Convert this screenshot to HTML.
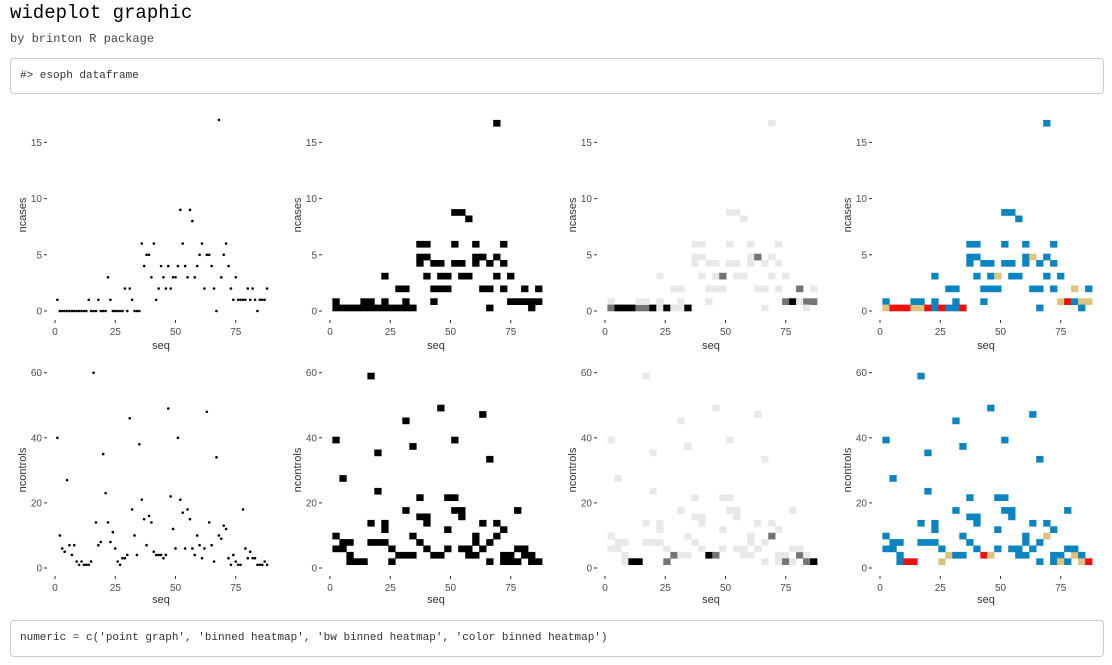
<!DOCTYPE html>
<html><head><meta charset="utf-8">
<style>
body{margin:0;background:#fff;width:1112px;height:665px;overflow:hidden;position:relative}
.t{position:absolute;left:10px;top:2px;font:19px "Liberation Mono",monospace;color:#000}
.s{position:absolute;left:10px;top:32px;font:12px "Liberation Mono",monospace;color:#444}
.box{position:absolute;left:10px;width:1094px;border:1px solid #ccc;border-radius:4px;background:#fff;font:11px "Liberation Mono",monospace;color:#333;box-sizing:border-box;padding-left:9px}
svg{position:absolute;left:0;top:0}
</style></head><body>
<div class="t">wideplot graphic</div>
<div class="s">by brinton R package</div>
<div class="box" style="top:58px;height:36px;line-height:34px">#&gt; esoph dataframe</div>
<div class="box" style="top:620px;height:37px;line-height:35px">numeric = c('point graph', 'binned heatmap', 'bw binned heatmap', 'color binned heatmap')</div>
<svg id="g" width="1112" height="665" xmlns="http://www.w3.org/2000/svg" font-family="Liberation Sans, sans-serif"></svg>
<script>
var cases={};
function setL(l,xs){xs.forEach(function(x){cases[Math.round((x-165)/7.24)+1]=l;});}
setL(0,[170,177,184,191,199,206,213,220,228,235,242,249,265,272,279,297,304,311,330,337,344,351,358,373,398,405,412,640,765]);
setL(1,[257,286,322,388,460,692,708,714,721,757,772,779,786,800]);
setL(2,[366,381,468,490,504,605,634,685,736,750,793]);
setL(3,[315,446,482,511,518,554,576,656,700]);
setL(4,[424,475,497,525,547,583,627,677]);
setL(5,[430,438,590,612,619,663]);
setL(6,[417,453,540,598,670]);
setL(8,[568]);setL(9,[533,561]);setL(17,[648]);
var nc=[40,10,6,5,27,7,4,7,2,1,2,1,1,1,2,60,14,7,8,35,23,14,8,11,6,2,1,3,3,4,46,18,10,4,38,21,15,7,16,14,5,4,4,4,3,4,49,22,12,6,40,21,17,6,18,15,6,4,10,7,3,6,48,14,7,2,34,10,9,13,12,3,1,4,2,1,1,18,6,3,5,3,3,1,1,1,2,1];
var ca=[];for(var i=1;i<=88;i++)ca.push(cases[i]!==undefined?cases[i]:1);
var svg=document.getElementById('g'),h='';
function txt(x,y,s,a,sz,c,extra){return '<text x="'+x+'" y="'+y+'" font-size="'+sz+'" fill="'+c+'" text-anchor="'+a+'" '+(extra||'')+'>'+s+'</text>';}
var rows=[{d:ca,y0:311,sc:11.24,ticks:[0,5,10,15],lab:'ncases',ty:322,ly:335,sy:349,laby:215},
          {d:nc,y0:568,sc:3.255,ticks:[0,20,40,60],lab:'ncontrols',ty:578,ly:591,sy:603,laby:470}];
var xs=2.41;
rows.forEach(function(r){
  var mn=Math.min.apply(null,r.d),mx=Math.max.apply(null,r.d);
  var bw=(88-1)/30,bh=(mx-mn)/30;
  var bins={},maxc=0;
  r.d.forEach(function(v,i){var x=i+1;var bx=Math.min(29,Math.floor((x-1)/bw)),by=Math.min(29,Math.floor((v-mn)/bh));var k=bx+','+by;bins[k]=(bins[k]||0)+1;if(bins[k]>maxc)maxc=bins[k];});
  for(var p=0;p<4;p++){
    var ox=55+275*p;
    r.ticks.forEach(function(t){var y=r.y0-t*r.sc;h+=txt(ox-13,y+3.5,t,'end',10,'#4d4d4d');h+='<line x1="'+(ox-11)+'" x2="'+(ox-8)+'" y1="'+y+'" y2="'+y+'" stroke="#333" stroke-width="1"/>';});
    [0,25,50,75].forEach(function(t){var x=ox+t*xs;h+='<line x1="'+x+'" x2="'+x+'" y1="'+(r.ty-2)+'" y2="'+(r.ty+1)+'" stroke="#333"/>';h+=txt(x,r.ly,t,'middle',10,'#4d4d4d');});
    h+=txt(ox+106,r.sy,'seq','middle',11,'#333');
    h+=txt(0,0,r.lab,'middle',11,'#333','transform="translate('+(ox-29)+','+r.laby+') rotate(-90)"');
    if(p==0){r.d.forEach(function(v,i){h+='<circle cx="'+(ox+(i+1)*xs)+'" cy="'+(r.y0-v*r.sc)+'" r="1.3" fill="#000"/>';});}
    else{
      for(var k in bins){var c=bins[k],b=k.split(',');var bx=+b[0],by=+b[1];
        var x1=ox+(1+bx*bw)*xs,x2=ox+(1+(bx+1)*bw)*xs,y1=r.y0-(mn+(by+1)*bh)*r.sc,y2=r.y0-(mn+by*bh)*r.sc;
        var col;
        if(p==1)col='#000';
        else if(p==2){var f=maxc>1?(c-1)/(maxc-1):0;var g=Math.round(232*(1-f));col='rgb('+g+','+g+','+g+')';}
        else col=c==1?'#0a85c2':(c==2?'#dcc47e':'#f01010');
        h+='<rect x="'+x1.toFixed(1)+'" y="'+y1.toFixed(1)+'" width="'+(x2-x1+0.3).toFixed(1)+'" height="'+(y2-y1+0.3).toFixed(1)+'" fill="'+col+'"/>';}
    }
  }
});
svg.innerHTML=h;
</script>
</body></html>
